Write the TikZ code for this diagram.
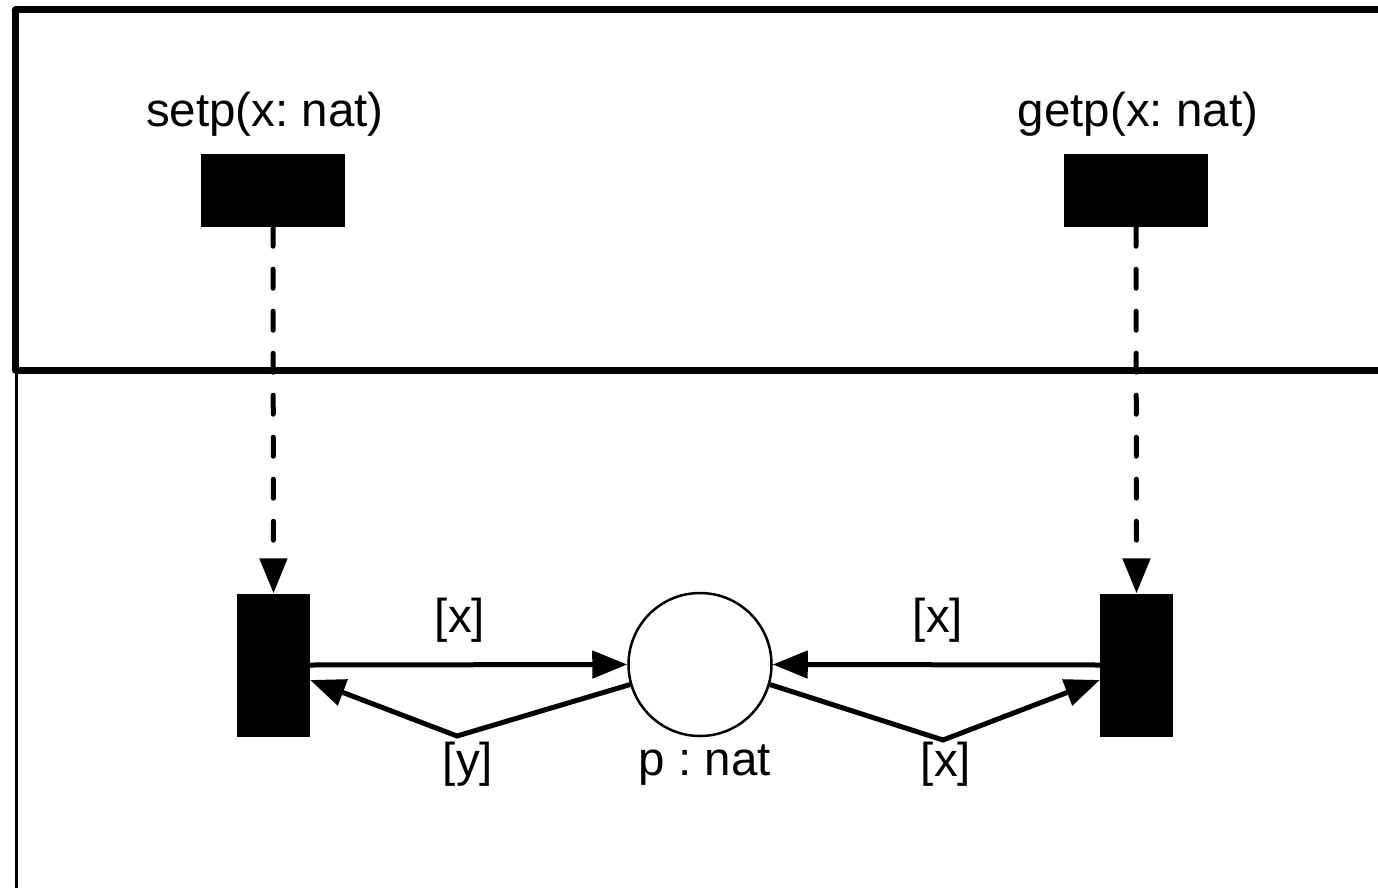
\documentclass[tikz,border=0pt]{standalone}
\usepackage{fontspec}
\setmainfont{Liberation Sans}
\usetikzlibrary{arrows.meta}
\begin{document}
\frenchspacing
\begin{tikzpicture}[x=1pt,y=-1pt,
  bigtrans/.style={fill=black,draw=none,inner sep=0pt,minimum width=144pt,minimum height=73pt},
  smalltrans/.style={fill=black,draw=none,inner sep=0pt,minimum width=73pt,minimum height=143pt},
  place/.style={circle,draw=black,line width=2.5pt,inner sep=0pt,minimum size=143pt},
  lbl/.style={font=\fontsize{47.5}{57}\selectfont\frenchspacing,inner sep=0pt,anchor=base},
  arc/.style={line width=5pt,-{Triangle[length=35pt,width=27pt]}},
  dasharc/.style={line width=5pt,line cap=round,dash pattern=on 19pt off 23pt,-{Triangle[length=35pt,width=27pt]}}]
\useasboundingbox (0,0) rectangle (1378,888);
% frames
\draw[line width=7pt,line join=round] (1395,10) -- (15.5,10) -- (15.5,370) -- (1395,370);
\draw[line width=3pt] (16.5,372) -- (16.5,900);
% transitions
\node[bigtrans] (st) at (273,190.5) {};
\node[bigtrans] (gt) at (1136,190.5) {};
\node[smalltrans] (lt) at (273.5,665) {};
\node[smalltrans] (rt) at (1136.5,665) {};
\node[place] (p) at (700,664.5) {};
% labels
\node[lbl] (lset) at (265,127) {setp(x: nat)};
\node[lbl] (lget) at (1138,127) {getp(x: nat)};
\node[lbl] (lp) at (705,775) {p : nat};
\node[lbl] (lx1) at (460,632) {[x]};
\node[lbl] (ly) at (468,776) {[y]};
\node[lbl] (lx2) at (938,632) {[x]};
\node[lbl] (lx3) at (946,776) {[x]};
% bend points
\coordinate (vl) at (457,736);
\coordinate (vr) at (943,740);
% connectors
\draw[dasharc] (st.south) -- (lt.north);
\draw[dasharc] (gt.south) -- (rt.north);
\draw[arc] (lt.east) -- (p.west);
\draw[arc] (rt.west) -- (p.east);
\draw[arc,line join=miter] (p.196) -- (vl) -- ([yshift=-15pt]lt.east);
\draw[arc,line join=miter] (p.344) -- (vr) -- ([yshift=-15pt]rt.west);
\end{tikzpicture}
\end{document}
